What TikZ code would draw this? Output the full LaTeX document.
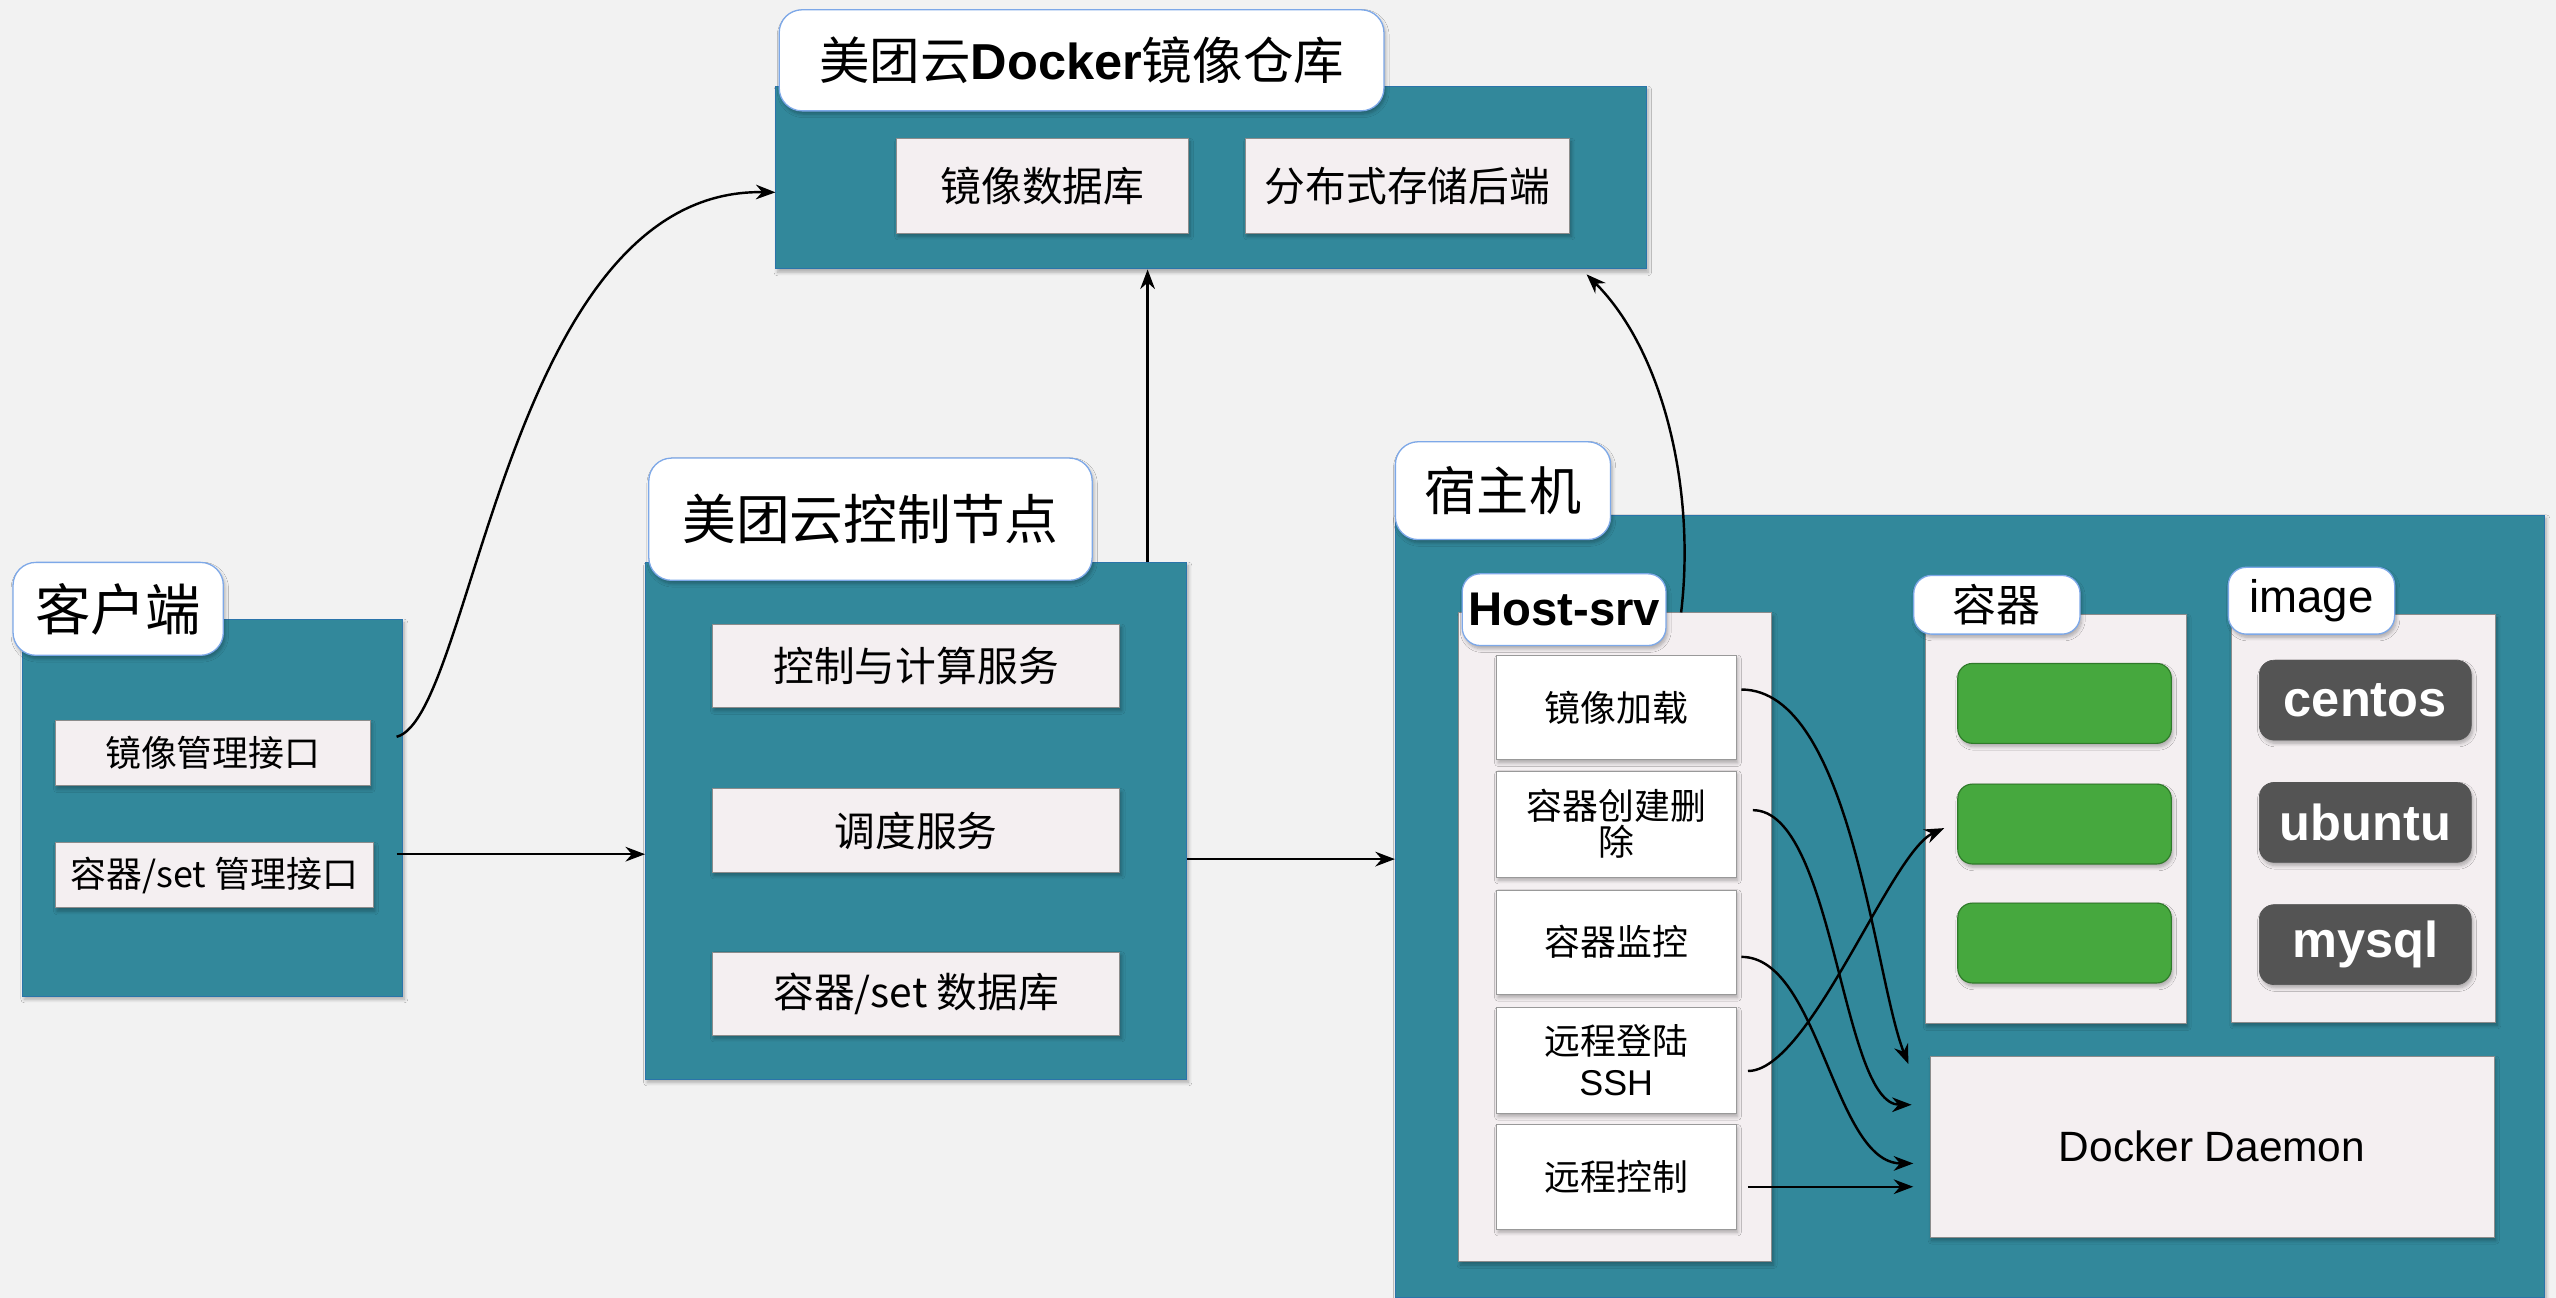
\documentclass[tikz,border=0pt]{standalone}
\usepackage{fontspec}
\setmainfont{Noto Sans CJK SC}
\newfontfamily\lat{Liberation Sans}
\usetikzlibrary{arrows.meta,shadows.blur}
\definecolor{bgc}{HTML}{F2F2F2}
\definecolor{tealc}{HTML}{32889B}
\definecolor{inboxc}{HTML}{F4EFF1}
\definecolor{pillc}{HTML}{7DA8E8}
\definecolor{grnc}{HTML}{46A83E}
\definecolor{grnbc}{HTML}{2F7A2A}
\definecolor{darkc}{HTML}{545454}
\tikzset{
  shd/.style={blur shadow={shadow xshift=1pt,shadow yshift=-2pt,shadow blur steps=6,shadow opacity=30}},
  panel/.style={fill=tealc, draw=tealc!85!blue, line width=0.6pt, shd, inner sep=0pt},
  pill/.style={fill=white, draw=pillc, line width=0.8pt, rounded corners=14pt, shd, inner sep=0pt},
  ibox/.style={fill=inboxc, draw=black!45, line width=0.6pt, shd, inner sep=0pt, align=center},
  wbox/.style={fill=white, draw=black!40, line width=0.6pt, shd, inner sep=0pt, align=center},
  gbox/.style={fill=grnc, draw=grnbc, line width=0.7pt, rounded corners=9pt, shd, inner sep=0pt},
  dbox/.style={fill=darkc, draw=darkc, rounded corners=9pt, shd, inner sep=0pt, text=white, font=\lat\bfseries\fontsize{31}{31}\selectfont},
  conn/.style={line width=1.5pt, -{Stealth[length=12pt,width=9pt]}},
}
\begin{document}
\begin{tikzpicture}[x=1pt,y=-1pt]
\useasboundingbox (0,0) rectangle (1568,796);
\fill[bgc] (0,0) rectangle (1568,796);

% ---------- panels ----------
\node[panel, minimum width=233pt, minimum height=231pt] (cl) at (130.5,495.5) {};
\node[panel, minimum width=534pt, minimum height=112pt] (reg) at (743,109) {};
\node[panel, minimum width=332pt, minimum height=317pt] (ctrl) at (562,503.5) {};
\node[panel, minimum width=705pt, minimum height=480pt] (host) at (1208.5,556) {};

% ---------- title pills ----------
\node[pill, minimum width=129pt, minimum height=57pt, font=\fontsize{34}{34}\selectfont] (clt) at (72.5,373.5) {客户端};
\node[pill, minimum width=371pt, minimum height=62pt, font=\fontsize{31}{31}\selectfont] (regt) at (663.5,37) {美团云{\lat\bfseries Docker}镜像仓库};
\node[pill, minimum width=272pt, minimum height=75pt, font=\fontsize{33}{33}\selectfont] (ctrlt) at (534,318.5) {美团云控制节点};
\node[pill, minimum width=132pt, minimum height=60pt, font=\fontsize{32}{32}\selectfont] (hostt) at (922,301) {宿主机};

% ---------- client ----------
\node[ibox, minimum width=193pt, minimum height=40pt, font=\fontsize{22}{22}\selectfont] (c1) at (130.5,462) {镜像管理接口};
\node[ibox, minimum width=195pt, minimum height=40pt, font=\fontsize{22}{22}\selectfont] (c2) at (131.5,537) {容器/set 管理接口};

% ---------- registry ----------
\node[ibox, minimum width=179pt, minimum height=58pt, font=\fontsize{25}{25}\selectfont] (r1) at (639.5,114) {镜像数据库};
\node[ibox, minimum width=199pt, minimum height=58pt, font=\fontsize{25}{25}\selectfont] (r2) at (863.5,114) {分布式存储后端};

% ---------- control ----------
\node[ibox, minimum width=250pt, minimum height=51pt, font=\fontsize{25}{25}\selectfont] (k1) at (562,408.5) {控制与计算服务};
\node[ibox, minimum width=250pt, minimum height=51pt, font=\fontsize{25}{25}\selectfont] (k2) at (562,509.5) {调度服务};
\node[ibox, minimum width=250pt, minimum height=51pt, font=\fontsize{25}{25}\selectfont] (k3) at (562,609.5) {容器/set 数据库};

% ---------- host ----------
\node[ibox, minimum width=192pt, minimum height=398pt] (hsrv) at (991,575) {};
\node[pill, rounded corners=11pt, minimum width=125pt, minimum height=44pt, font=\lat\bfseries\fontsize{29}{29}\selectfont] (hsrvt) at (959.5,374) {Host-srv};
\node[wbox, minimum width=147pt, minimum height=64pt, font=\fontsize{22}{22}\selectfont] (h1) at (991.5,434) {镜像加载};
\node[wbox, minimum width=147pt, minimum height=65pt, font=\fontsize{22}{22}\selectfont] (h2) at (991.5,505.5) {容器创建删\\除};
\node[wbox, minimum width=147pt, minimum height=64pt, font=\fontsize{22}{22}\selectfont] (h3) at (991.5,578) {容器监控};
\node[wbox, minimum width=147pt, minimum height=65pt, font=\fontsize{22}{25}\selectfont] (h4) at (991.5,650.5) {远程登陆\\{\lat SSH}};
\node[wbox, minimum width=147pt, minimum height=64pt, font=\fontsize{22}{22}\selectfont] (h5) at (991.5,722) {远程控制};

\node[ibox, minimum width=160pt, minimum height=251pt] (ctn) at (1261,502.5) {};
\node[pill, rounded corners=11pt, minimum width=102pt, minimum height=36pt, font=\fontsize{27}{27}\selectfont] (ctnt) at (1225,371) {容器};
\node[gbox, minimum width=131pt, minimum height=49pt] (g1) at (1266.5,431.5) {};
\node[gbox, minimum width=131pt, minimum height=49pt] (g2) at (1266.5,505.5) {};
\node[gbox, minimum width=131pt, minimum height=49pt] (g3) at (1266.5,578.5) {};

\node[ibox, minimum width=162pt, minimum height=250pt] (img) at (1450,502) {};
\node[pill, rounded corners=11pt, minimum width=102pt, minimum height=41pt, font=\lat\fontsize{28}{28}\selectfont] (imgt) at (1418,368.5) {image};
\node[dbox, minimum width=130pt, minimum height=49pt] (d1) at (1451,429.5) {centos};
\node[dbox, minimum width=130pt, minimum height=49pt] (d2) at (1451,504.5) {ubuntu};
\node[dbox, minimum width=130pt, minimum height=49pt] (d3) at (1451,579.5) {mysql};

\node[ibox, minimum width=346pt, minimum height=111pt, font=\lat\fontsize{26}{26}\selectfont] (dd) at (1357,703.5) {Docker Daemon};

% ---------- connectors ----------
\draw[conn] ([xshift=-4pt,yshift=10pt]cl.east |- c1.east) .. controls +(47,-12) and +(-165,-3) .. ([yshift=-9pt]reg.west);
\draw[conn] ([xshift=-4pt,yshift=13pt]cl.east |- c2.east) -- ([yshift=13pt]ctrl.west |- c2.east);
\draw[conn] ([yshift=-23.5pt]ctrl.east) -- ([yshift=-23.5pt]ctrl.east -| host.west);
\draw[conn] ([xshift=142pt]ctrl.north) -- ([xshift=142pt]ctrl.north |- reg.south);
\draw[conn] ([xshift=-56pt]hsrv.north east) .. controls +(9,-76) and +(47,47) .. ([xshift=-37pt,yshift=-3pt]reg.south east);

\draw[conn] ([xshift=3pt,yshift=11pt]h1.east) .. controls +(67,0) and +(-21,-53) .. ([xshift=-13pt,yshift=-5pt]dd.north west);
\draw[conn] ([xshift=10pt,yshift=8.5pt]h2.east) .. controls +(50,0) and +(-43,0) .. ([xshift=-11pt,yshift=-30pt]dd.north west);
\draw[conn] ([xshift=3pt,yshift=-9pt]h3.east) .. controls +(48,0) and +(-49,0) .. ([xshift=-10pt,yshift=-66pt]dd.north west);
\draw[conn] ([xshift=7pt,yshift=-6.5pt]h4.east) .. controls +(38,0) and +(-33,15) .. ([xshift=-8pt,yshift=-2.5pt]g2.west);
\draw[conn] ([xshift=7pt,yshift=-6pt]h5.east) -- ([xshift=-10pt,yshift=-24.5pt]dd.west);
\end{tikzpicture}
\end{document}
